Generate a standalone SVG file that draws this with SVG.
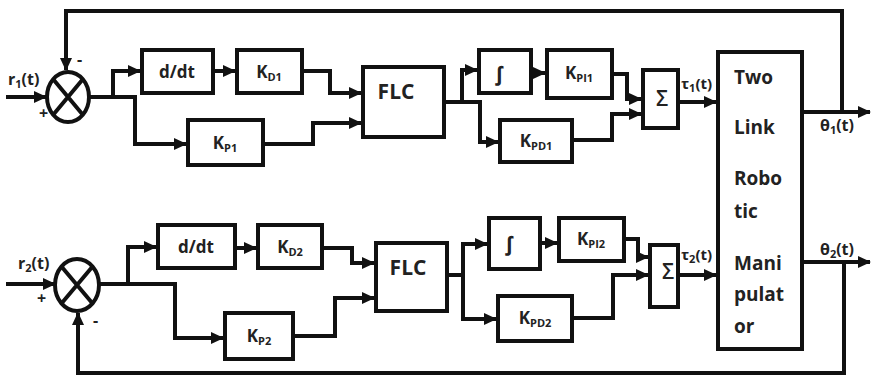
<svg xmlns="http://www.w3.org/2000/svg" width="871" height="376" viewBox="0 0 871 376">
<style>
.box{fill:#fff;stroke:#111;stroke-width:4}
.ln{fill:none;stroke:#111;stroke-width:4;stroke-linejoin:miter}
.ar{marker-end:url(#ah)}
.t{font-family:"Open Sans","Liberation Sans",sans-serif;font-weight:700;fill:#222}
.c{text-anchor:middle}
.n{font-weight:600}
.sub{font-size:11px}
.big{font-size:19px}
</style>
<defs>
<marker id="ah" markerUnits="userSpaceOnUse" markerWidth="13" markerHeight="12" refX="12" refY="6" orient="auto">
<path d="M0,0 L13,6 L0,12 z" fill="#111"/>
</marker>
</defs>
<rect width="871" height="376" fill="#fff"/>
<g id="connectors">
<path class="ln ar" d="M842,112 V11 H66 V70"/>
<path class="ln ar" d="M6,97 H46"/>
<path class="ln ar" d="M89,97 H135 V144 H186"/>
<path class="ln ar" d="M113,97 V71 H140"/>
<path class="ln ar" d="M213,71 H235"/>
<path class="ln ar" d="M302,71 H330 V93 H361"/>
<path class="ln ar" d="M263,144 H313 V123 H361"/>
<path class="ln ar" d="M444,102 H480 V142 H498"/>
<path class="ln ar" d="M462,102 V70 H477"/>
<path class="ln ar" d="M531,73 H545"/>
<path class="ln ar" d="M612,74 H627 V99 H641"/>
<path class="ln ar" d="M572,140 H612 V114 H641"/>
<path class="ln ar" d="M678,102 H716"/>
<path class="ln ar" d="M802,112 H870"/>
<path class="ln ar" d="M844,262 V373 H78 V313"/>
<path class="ln ar" d="M6,284 H55"/>
<path class="ln ar" d="M99,284 H175 V338 H223"/>
<path class="ln ar" d="M128,284 V247 H156"/>
<path class="ln ar" d="M235,248 H256"/>
<path class="ln ar" d="M322,248 H352 V263 H374"/>
<path class="ln ar" d="M293,336 H335 V298 H374"/>
<path class="ln ar" d="M447,275 H463 V319 H496"/>
<path class="ln ar" d="M463,275 V244 H487"/>
<path class="ln ar" d="M540,243 H557"/>
<path class="ln ar" d="M624,239 H638 V257 H648"/>
<path class="ln ar" d="M572,318 H613 V275 H648"/>
<path class="ln ar" d="M678,275 H716"/>
<path class="ln ar" d="M802,262 H870"/>
</g>
<g id="sum1">
<ellipse cx="68" cy="97" rx="21" ry="25" class="box"/>
<path class="ln" d="M53,79 L83,115 M83,79 L53,115"/>
<text class="t" x="8" y="85" font-size="16">r<tspan class="sub" dy="3">1</tspan><tspan dy="-3">(t)</tspan></text>
<text class="t" x="39" y="119" font-size="16">+</text>
<text class="t" x="77" y="65" font-size="16">-</text>
</g>
<g id="ddt1"><rect class="box" x="142" y="50" width="71" height="43"/><text class="t c" x="177" y="78" font-size="17">d/dt</text></g>
<g id="kd1"><rect class="box" x="237" y="50" width="65" height="43"/><text class="t c" x="269" y="78" font-size="17">K<tspan class="sub" dy="3">D1</tspan></text></g>
<g id="kp1"><rect class="box" x="188" y="120" width="75" height="45"/><text class="t c" x="225" y="149" font-size="17">K<tspan class="sub" dy="3">P1</tspan></text></g>
<g id="flc1"><rect class="box" x="363" y="67" width="81" height="70"/><text class="t c" x="396" y="99" font-size="21">FLC</text></g>
<g id="int1"><rect class="box" x="479" y="50" width="52" height="43"/><text class="t c" x="499" y="81" font-size="20">∫</text></g>
<g id="kpi1"><rect class="box" x="547" y="50" width="65" height="48"/><text class="t c" x="579" y="79" font-size="17">K<tspan class="sub" dy="3">PI1</tspan></text></g>
<g id="kpd1"><rect class="box" x="500" y="120" width="72" height="42"/><text class="t c" x="536" y="147" font-size="17">K<tspan class="sub" dy="3">PD1</tspan></text></g>
<g id="sigma1"><rect class="box" x="643" y="70" width="35" height="58"/><text class="t c n" x="662" y="106" font-size="21">Σ</text>
<text class="t" x="681" y="89" font-size="15">τ<tspan class="sub" dy="3">1</tspan><tspan dy="-3">(t)</tspan></text></g>
<g id="robot"><rect class="box" x="718" y="52" width="84" height="297"/>
<text class="t big" x="734" y="84">Two</text>
<text class="t big" x="734" y="134">Link</text>
<text class="t big" x="734" y="185">Robo</text>
<text class="t big" x="734" y="218">tic</text>
<text class="t big" x="734" y="270">Mani</text>
<text class="t big" x="734" y="301">pulat</text>
<text class="t big" x="734" y="333">or</text>
<text class="t" x="820" y="131" font-size="16">θ<tspan class="sub" dy="3">1</tspan><tspan dy="-3">(t)</tspan></text>
<text class="t" x="820" y="255" font-size="16">θ<tspan class="sub" dy="3">2</tspan><tspan dy="-3">(t)</tspan></text>
</g>
<g id="sum2">
<ellipse cx="77" cy="285" rx="22" ry="26" class="box"/>
<path class="ln" d="M61,266 L93,304 M93,266 L61,304"/>
<text class="t" x="18" y="269" font-size="16">r<tspan class="sub" dy="3">2</tspan><tspan dy="-3">(t)</tspan></text>
<text class="t" x="37" y="304" font-size="16">+</text>
<text class="t" x="93" y="326" font-size="16">-</text>
</g>
<g id="ddt2"><rect class="box" x="158" y="225" width="77" height="43"/><text class="t c" x="196" y="253" font-size="17">d/dt</text></g>
<g id="kd2"><rect class="box" x="258" y="225" width="64" height="43"/><text class="t c" x="290" y="253" font-size="17">K<tspan class="sub" dy="3">D2</tspan></text></g>
<g id="kp2"><rect class="box" x="225" y="313" width="68" height="46"/><text class="t c" x="259" y="342" font-size="17">K<tspan class="sub" dy="3">P2</tspan></text></g>
<g id="flc2"><rect class="box" x="376" y="243" width="71" height="68"/><text class="t c" x="408" y="275" font-size="21">FLC</text></g>
<g id="int2"><rect class="box" x="489" y="218" width="51" height="51"/><text class="t c" x="509" y="251" font-size="20">∫</text></g>
<g id="kpi2"><rect class="box" x="559" y="218" width="65" height="43"/><text class="t c" x="591" y="245" font-size="17">K<tspan class="sub" dy="3">PI2</tspan></text></g>
<g id="kpd2"><rect class="box" x="498" y="296" width="74" height="45"/><text class="t c" x="535" y="324" font-size="17">K<tspan class="sub" dy="3">PD2</tspan></text></g>
<g id="sigma2"><rect class="box" x="650" y="245" width="28" height="62"/><text class="t c n" x="668" y="279" font-size="21">Σ</text>
<text class="t" x="681" y="260" font-size="15">τ<tspan class="sub" dy="3">2</tspan><tspan dy="-3">(t)</tspan></text></g>
</svg>
